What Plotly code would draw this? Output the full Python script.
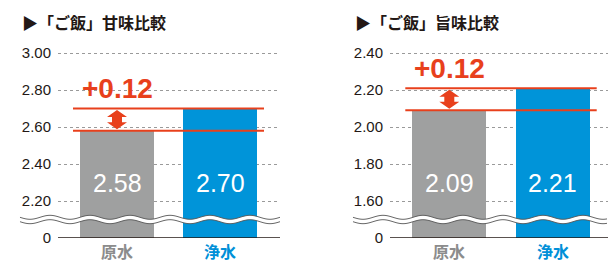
import math
import plotly.graph_objects as go

# ---------------- data ----------------
categories = ["原水", "浄水"]
titles = ["▶「ご飯」甘味比較", "▶「ご飯」旨味比較"]
sweet_values = [2.58, 2.70]
umami_values = [2.09, 2.21]
sweet_ticks = [2.20, 2.40, 2.60, 2.80, 3.00]
umami_ticks = [1.60, 1.80, 2.00, 2.20, 2.40]
sweet_base = 2.00   # position at which the broken axis shows "0"
umami_base = 1.40

# ---------------- style ----------------
W, H = 608, 263
GRAY = "#9fa0a0"
BLUE = "#0094d9"
RED = "#e8401c"
DARK = "#231815"
bar_colors = [GRAY, BLUE]
cat_colors = ["#8c8c8c", "#0090d8"]


def pxx(p):
    return p / W


def pxy(p):
    return 1 - p / H


PX_PER_UNIT_Y = 185.0
BASE_PX = 238.0
TOP_PX = BASE_PX - 1.05 * PX_PER_UNIT_Y

panels = [
    dict(values=sweet_values, ticks=sweet_ticks, base=sweet_base, title=titles[0],
         left=58, right=280, c0=117.0, c1=220.0, title_x=20, wave=(20, 280)),
    dict(values=umami_values, ticks=umami_ticks, base=umami_base, title=titles[1],
         left=390, right=608, c0=449.3, c1=552.7, title_x=353, wave=(353, 608)),
]

fig = go.Figure()
shapes = []
annotations = []

for i, p in enumerate(panels):
    n = "" if i == 0 else str(i + 1)
    xa, ya = "x" + n, "y" + n
    unit = p["c1"] - p["c0"]
    xr = [-(p["c0"] - p["left"]) / unit, (p["right"] - p["c0"]) / unit]
    base = p["base"]
    vals = p["values"]

    fig.add_trace(go.Bar(
        x=[0, 1], y=[v - base for v in vals], base=[base, base],
        width=74 / unit, marker=dict(color=bar_colors, line=dict(width=0)),
        xaxis=xa, yaxis=ya, hoverinfo="skip", showlegend=False,
    ))

    tickvals = [base] + p["ticks"]
    ticktext = ["0"] + [f"{t:.2f}" for t in p["ticks"]]
    fig.update_layout(**{
        "xaxis" + n: dict(domain=[pxx(p["left"]), pxx(p["right"])], range=xr,
                          showgrid=False, zeroline=False, showticklabels=False,
                          fixedrange=True, automargin=False),
        "yaxis" + n: dict(domain=[pxy(BASE_PX), pxy(TOP_PX)],
                          range=[base, base + 1.05], tickvals=tickvals, ticktext=ticktext,
                          showgrid=True, griddash="dot", gridcolor="#9a9a9a", gridwidth=1,
                          zeroline=False, showline=False, ticks="",
                          ticklabelstandoff=6, automargin=False,
                          tickfont=dict(family="Liberation Sans, Arial", size=15, color=DARK),
                          anchor=xa, fixedrange=True),
    })

    # baseline ("0")
    shapes.append(dict(type="line", xref=xa + " domain", yref=ya, x0=0, x1=1,
                       y0=base, y1=base, line=dict(color=DARK, width=1.6), layer="above"))

    # axis break wave
    x_start, x_end = p["wave"]
    yc, off, amp, period = 219.5, 2.2, 2.0, 40.0
    xs = list(range(int(x_start), int(x_end) + 1, 2))
    upper = [(x, yc - off + amp * math.sin(2 * math.pi * (x - x_start) / period)) for x in xs]
    lower = [(x, yc + off + amp * math.sin(2 * math.pi * (x - x_start) / period)) for x in xs]
    fill_pts = upper + lower[::-1]
    fill_path = "M " + " L ".join(f"{pxx(x):.5f},{pxy(y):.5f}" for x, y in fill_pts) + " Z"
    shapes.append(dict(type="path", xref="paper", yref="paper", path=fill_path,
                       fillcolor="white", line=dict(width=0), layer="above"))
    for pts in (upper, lower):
        path = "M " + " L ".join(f"{pxx(x):.5f},{pxy(y):.5f}" for x, y in pts)
        shapes.append(dict(type="path", xref="paper", yref="paper", path=path,
                           line=dict(color="#555555", width=0.9), layer="above"))

    # difference lines
    ext = 44 / unit
    lo, hi = min(vals), max(vals)
    for v in (lo, hi):
        shapes.append(dict(type="line", xref=xa, yref=ya, x0=0 - ext, x1=1 + ext,
                           y0=v, y1=v, line=dict(color=RED, width=2), layer="above"))

    # double arrow
    d = 1 / PX_PER_UNIT_Y
    t_top, h_top = hi - 1.5 * d, hi - 8.5 * d
    t_bot, h_bot = lo + 1.5 * d, lo + 8.5 * d
    arrow = (f"M 0,{t_top} L 10,{h_top} L 5,{h_top} L 5,{h_bot} L 10,{h_bot} "
             f"L 0,{t_bot} L -10,{h_bot} L -5,{h_bot} L -5,{h_top} L -10,{h_top} Z")
    shapes.append(dict(type="path", xref=xa, yref=ya, xsizemode="pixel", xanchor=0,
                       path=arrow, fillcolor=RED, line=dict(width=0), layer="above"))

    # difference label
    annotations.append(dict(xref=xa, yref=ya, x=0, y=hi, text=f"+{hi - lo:.2f}",
                            showarrow=False, yanchor="bottom", yshift=2,
                            font=dict(family="Liberation Sans, Arial", size=28,
                                      color=RED, weight="bold")))

    # value labels
    for j, v in enumerate(vals):
        annotations.append(dict(xref=xa, yref=ya, x=j, y=base + 0.30, text=f"{v:.2f}",
                                showarrow=False,
                                font=dict(family="Liberation Sans, Arial", size=25,
                                          color="white")))
        annotations.append(dict(xref=xa, yref="paper", x=j, y=pxy(251), text=categories[j],
                                showarrow=False, yanchor="middle",
                                font=dict(family="Noto Sans CJK JP", size=16,
                                          color=cat_colors[j], weight="bold")))

    # title
    annotations.append(dict(xref="paper", yref="paper", x=pxx(p["title_x"]), y=pxy(22),
                            xanchor="left", yanchor="middle", text=p["title"], showarrow=False,
                            font=dict(family="Noto Sans CJK JP", size=16, color=DARK,
                                      weight="bold")))

fig.update_layout(
    width=W, height=H, margin=dict(l=0, r=0, t=0, b=0),
    paper_bgcolor="white", plot_bgcolor="white",
    shapes=shapes, annotations=annotations, bargap=0, showlegend=False,
)

fig.write_html("out.html", config={"displayModeBar": False},
               post_script="document.body.style.margin='0';document.body.style.overflow='hidden';")
